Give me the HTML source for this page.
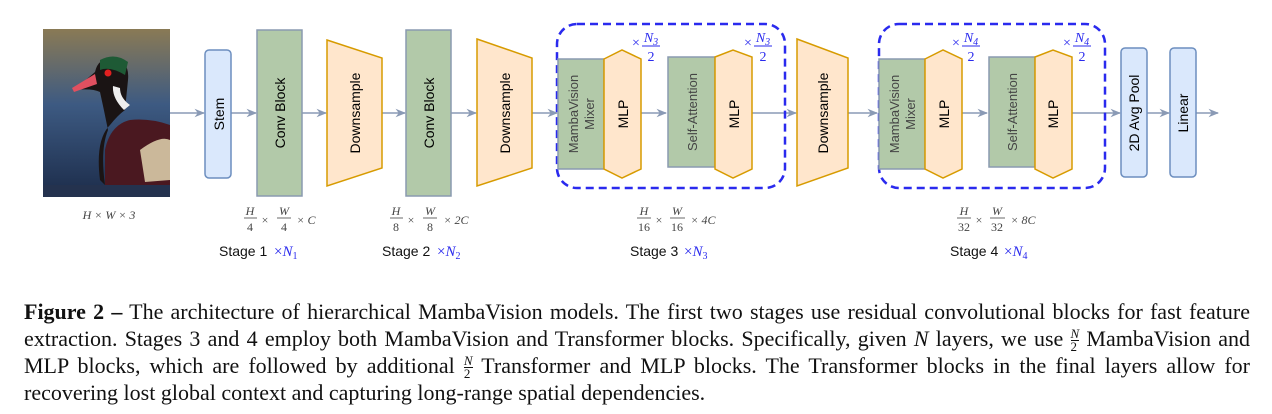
<!DOCTYPE html>
<html><head><meta charset="utf-8"><style>
body{margin:0;width:1272px;height:414px;background:#fff;overflow:hidden;position:relative}
.cap{position:absolute;left:24px;width:1226px;font-family:"Liberation Serif",serif;font-size:22px;color:#111;line-height:27px;}
.ln{text-align:justify;text-align-last:justify;white-space:nowrap;display:block;height:27px}
.fr{display:inline-block;vertical-align:middle;text-align:center;font-size:13px;line-height:12px;font-style:italic}
.fr span{display:block}
.fr span:first-child{border-bottom:1px solid #111}
</style></head><body>
<svg width="1272" height="290" style="position:absolute;left:0;top:0" font-family="Liberation Sans, sans-serif">
<defs>
<linearGradient id="bg" x1="0" y1="0" x2="0" y2="1"><stop offset="0" stop-color="#8a7a55"/><stop offset="0.45" stop-color="#3d5a82"/><stop offset="1" stop-color="#1c2c4a"/></linearGradient>
<marker id="ar" viewBox="0 0 10 10" refX="9" refY="5" markerWidth="7" markerHeight="7" orient="auto"><path d="M0,1 L10,5 L0,9 L3,5z" fill="#8a9ab5"/></marker>
</defs>
<rect x="43" y="29" width="127" height="168" fill="url(#bg)"/>
<path d="M100,180 Q95,140 110,125 Q118,115 125,110 L128,80 Q130,60 112,58 Q98,58 95,72 L74,90 Q92,88 100,92 Q104,110 108,130 Q100,150 105,185 Z" fill="#1a1414"/>
<path d="M105,150 Q110,125 130,120 Q150,118 170,125 L170,185 L105,188 Z" fill="#4a1820"/>
<path d="M140,150 Q160,135 170,140 L170,180 L145,182 Z" fill="#cbb89a"/>
<path d="M113,86 Q112,98 124,110 L130,105 Q120,98 120,88 Z" fill="#eee"/>
<path d="M100,60 Q115,52 128,62 L125,75 Q110,66 100,70 Z" fill="#1e5a35"/>
<circle cx="108" cy="73" r="3.5" fill="#e02020"/>
<path d="M95,74 L72,88 L74,92 L97,84 Z" fill="#e05060"/>
<rect x="43" y="185" width="127" height="12" fill="#24324e"/>
<g stroke="#8a9ab5" stroke-width="1.5" marker-end="url(#ar)">
<line x1="170" y1="113" x2="204" y2="113"/>
<line x1="231" y1="113" x2="256" y2="113"/>
<line x1="302" y1="113" x2="326" y2="113"/>
<line x1="382" y1="113" x2="405" y2="113"/>
<line x1="451" y1="113" x2="476" y2="113"/>
<line x1="532" y1="113" x2="557" y2="113"/>
<line x1="641" y1="113" x2="666" y2="113"/>
<line x1="752" y1="113" x2="796" y2="113"/>
<line x1="848" y1="113" x2="877" y2="113"/>
<line x1="962" y1="113" x2="987" y2="113"/>
<line x1="1072" y1="113" x2="1120" y2="113"/>
<line x1="1147" y1="113" x2="1169" y2="113"/>
<line x1="1196" y1="113" x2="1218" y2="113"/>
</g>
<rect x="205" y="50" width="26" height="128" rx="4" fill="#dae8fc" stroke="#6c8ebf" stroke-width="1.5"/>
<text transform="translate(224,114) rotate(-90)" text-anchor="middle" font-size="14">Stem</text>
<rect x="257" y="30" width="45" height="166" fill="#b2c9a9" stroke="#8a9ab0" stroke-width="1.5"/>
<text transform="translate(285,113) rotate(-90)" text-anchor="middle" font-size="14">Conv Block</text>
<path d="M327,40 L382,58 L382,168 L327,186 Z" fill="#ffe6cc" stroke="#d79b00" stroke-width="1.5"/>
<text transform="translate(360,113) rotate(-90)" text-anchor="middle" font-size="14">Downsample</text>
<rect x="406" y="30" width="45" height="166" fill="#b2c9a9" stroke="#8a9ab0" stroke-width="1.5"/>
<text transform="translate(434,113) rotate(-90)" text-anchor="middle" font-size="14">Conv Block</text>
<path d="M477,39 L532,58 L532,168 L477,186 Z" fill="#ffe6cc" stroke="#d79b00" stroke-width="1.5"/>
<text transform="translate(510,113) rotate(-90)" text-anchor="middle" font-size="14">Downsample</text>
<rect x="557" y="24" width="228" height="164" rx="20" fill="none" stroke="#2a2aee" stroke-width="2.5" stroke-dasharray="8,5"/>
<rect x="558" y="59" width="46" height="110" fill="#b2c9a9" stroke="#8a9ab0" stroke-width="1.5"/>
<text transform="translate(578,114) rotate(-90)" text-anchor="middle" font-size="13" fill="#444">MambaVision</text>
<text transform="translate(594,114) rotate(-90)" text-anchor="middle" font-size="13" fill="#444">Mixer</text>
<path d="M604,59 L622,50 L641,59 L641,169 L622,178 L604,169 Z" fill="#ffe6cc" stroke="#d79b00" stroke-width="1.5"/>
<text transform="translate(628,114) rotate(-90)" text-anchor="middle" font-size="14">MLP</text>
<rect x="668" y="57" width="47" height="110" fill="#b2c9a9" stroke="#8a9ab0" stroke-width="1.5"/>
<text transform="translate(697,112) rotate(-90)" text-anchor="middle" font-size="13" fill="#444">Self-Attention</text>
<path d="M715,57 L733,50 L752,57 L752,169 L733,178 L715,169 Z" fill="#ffe6cc" stroke="#d79b00" stroke-width="1.5"/>
<text transform="translate(739,114) rotate(-90)" text-anchor="middle" font-size="14">MLP</text>
<path d="M797,39 L848,58 L848,168 L797,186 Z" fill="#ffe6cc" stroke="#d79b00" stroke-width="1.5"/>
<text transform="translate(828,113) rotate(-90)" text-anchor="middle" font-size="14">Downsample</text>
<rect x="879" y="24" width="226" height="164" rx="20" fill="none" stroke="#2a2aee" stroke-width="2.5" stroke-dasharray="8,5"/>
<rect x="879" y="59" width="46" height="110" fill="#b2c9a9" stroke="#8a9ab0" stroke-width="1.5"/>
<text transform="translate(899,114) rotate(-90)" text-anchor="middle" font-size="13" fill="#444">MambaVision</text>
<text transform="translate(915,114) rotate(-90)" text-anchor="middle" font-size="13" fill="#444">Mixer</text>
<path d="M925,59 L943,50 L962,59 L962,169 L943,178 L925,169 Z" fill="#ffe6cc" stroke="#d79b00" stroke-width="1.5"/>
<text transform="translate(949,114) rotate(-90)" text-anchor="middle" font-size="14">MLP</text>
<rect x="989" y="57" width="46" height="110" fill="#b2c9a9" stroke="#8a9ab0" stroke-width="1.5"/>
<text transform="translate(1017,112) rotate(-90)" text-anchor="middle" font-size="13" fill="#444">Self-Attention</text>
<path d="M1035,57 L1053,50 L1072,57 L1072,169 L1053,178 L1035,169 Z" fill="#ffe6cc" stroke="#d79b00" stroke-width="1.5"/>
<text transform="translate(1058,114) rotate(-90)" text-anchor="middle" font-size="14">MLP</text>
<rect x="1121" y="48" width="26" height="129" rx="4" fill="#dae8fc" stroke="#6c8ebf" stroke-width="1.5"/>
<text transform="translate(1139,113) rotate(-90)" text-anchor="middle" font-size="14">2D Avg Pool</text>
<rect x="1170" y="48" width="26" height="129" rx="4" fill="#dae8fc" stroke="#6c8ebf" stroke-width="1.5"/>
<text transform="translate(1188,113) rotate(-90)" text-anchor="middle" font-size="14">Linear</text>
<g font-family="Liberation Serif, serif" fill="#2a2aee" font-size="14">
<g transform="translate(632,0)"><text x="0" y="47">×</text><text x="19" y="42" text-anchor="middle" font-style="italic">N<tspan font-size="10" dy="3">3</tspan></text><line x1="10" y1="46" x2="28" y2="46" stroke="#2a2aee"/><text x="19" y="61" text-anchor="middle">2</text></g>
<g transform="translate(744,0)"><text x="0" y="47">×</text><text x="19" y="42" text-anchor="middle" font-style="italic">N<tspan font-size="10" dy="3">3</tspan></text><line x1="10" y1="46" x2="28" y2="46" stroke="#2a2aee"/><text x="19" y="61" text-anchor="middle">2</text></g>
<g transform="translate(952,0)"><text x="0" y="47">×</text><text x="19" y="42" text-anchor="middle" font-style="italic">N<tspan font-size="10" dy="3">4</tspan></text><line x1="10" y1="46" x2="28" y2="46" stroke="#2a2aee"/><text x="19" y="61" text-anchor="middle">2</text></g>
<g transform="translate(1063,0)"><text x="0" y="47">×</text><text x="19" y="42" text-anchor="middle" font-style="italic">N<tspan font-size="10" dy="3">4</tspan></text><line x1="10" y1="46" x2="28" y2="46" stroke="#2a2aee"/><text x="19" y="61" text-anchor="middle">2</text></g>
</g>
<g font-family="Liberation Serif, serif" fill="#444" font-size="12" font-style="italic">
<text x="109" y="219" text-anchor="middle">H × W × 3</text>
<g text-anchor="middle">
<text x="250" y="215">H</text><line x1="244" y1="218" x2="257" y2="218" stroke="#444" stroke-width="0.8"/><text x="250" y="231" font-style="normal">4</text>
<text x="265" y="224" font-style="normal">×</text>
<text x="284" y="215">W</text><line x1="277" y1="218" x2="291" y2="218" stroke="#444" stroke-width="0.8"/><text x="284" y="231" font-style="normal">4</text>
<text x="306" y="224">× C</text>
<text x="396" y="215">H</text><line x1="390" y1="218" x2="403" y2="218" stroke="#444" stroke-width="0.8"/><text x="396" y="231" font-style="normal">8</text>
<text x="411" y="224" font-style="normal">×</text>
<text x="430" y="215">W</text><line x1="423" y1="218" x2="437" y2="218" stroke="#444" stroke-width="0.8"/><text x="430" y="231" font-style="normal">8</text>
<text x="456" y="224">× 2C</text>
<text x="644" y="215">H</text><line x1="637" y1="218" x2="651" y2="218" stroke="#444" stroke-width="0.8"/><text x="644" y="231" font-style="normal">16</text>
<text x="659" y="224" font-style="normal">×</text>
<text x="677" y="215">W</text><line x1="670" y1="218" x2="685" y2="218" stroke="#444" stroke-width="0.8"/><text x="677" y="231" font-style="normal">16</text>
<text x="703" y="224">× 4C</text>
<text x="964" y="215">H</text><line x1="957" y1="218" x2="971" y2="218" stroke="#444" stroke-width="0.8"/><text x="964" y="231" font-style="normal">32</text>
<text x="979" y="224" font-style="normal">×</text>
<text x="997" y="215">W</text><line x1="990" y1="218" x2="1005" y2="218" stroke="#444" stroke-width="0.8"/><text x="997" y="231" font-style="normal">32</text>
<text x="1023" y="224">× 8C</text>
</g></g>
<g font-size="14" fill="#111">
<text x="219" y="256">Stage 1</text><text x="382" y="256">Stage 2</text><text x="630" y="256">Stage 3</text><text x="950" y="256">Stage 4</text>
</g>
<g font-family="Liberation Serif, serif" font-size="15" fill="#2a2aee">
<text x="274" y="256">×<tspan font-style="italic">N</tspan><tspan font-size="10" dy="3">1</tspan></text>
<text x="437" y="256">×<tspan font-style="italic">N</tspan><tspan font-size="10" dy="3">2</tspan></text>
<text x="684" y="256">×<tspan font-style="italic">N</tspan><tspan font-size="10" dy="3">3</tspan></text>
<text x="1004" y="256">×<tspan font-style="italic">N</tspan><tspan font-size="10" dy="3">4</tspan></text>
</g>
</svg>
<div class="cap" style="top:298px">
<span class="ln"><b>Figure 2 –</b> The architecture of hierarchical MambaVision models. The first two stages use residual convolutional blocks for fast feature</span>
<span class="ln">extraction. Stages 3 and 4 employ both MambaVision and Transformer blocks. Specifically, given <i>N</i> layers, we use <span class="fr"><span>N</span><span style="font-style:normal">2</span></span> MambaVision and</span>
<span class="ln">MLP blocks, which are followed by additional <span class="fr"><span>N</span><span style="font-style:normal">2</span></span> Transformer and MLP blocks. The Transformer blocks in the final layers allow for</span>
<span class="ln" style="text-align-last:left">recovering lost global context and capturing long-range spatial dependencies.</span>
</div>
</body></html>
